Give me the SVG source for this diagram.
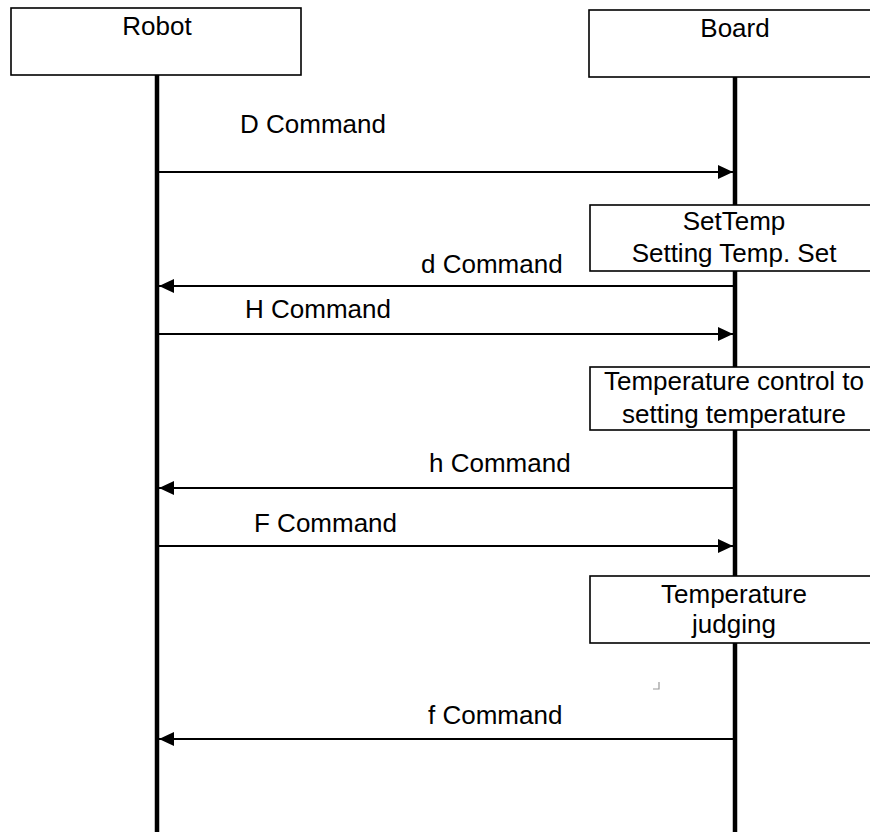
<svg xmlns="http://www.w3.org/2000/svg" width="870" height="832" viewBox="0 0 870 832">
  <defs>
    <marker id="arrowhead" markerWidth="15" markerHeight="14" refX="15" refY="7" orient="auto" markerUnits="userSpaceOnUse">
      <path d="M0,0 L15,7 L0,14 Z" fill="#000"/>
    </marker>
    <style>
      text { font-family: "Liberation Sans", Arial, Helvetica, sans-serif; font-size: 26px; fill: #000; }
      .mid { text-anchor: middle; }
      .box { fill: #fff; stroke: #000; stroke-width: 1.6; }
      .lifeline { stroke: #000; stroke-width: 4.5; }
      .msg { stroke: #000; stroke-width: 2.2; fill: none; marker-end: url(#arrowhead); }
    </style>
  </defs>

  <rect width="870" height="832" fill="#fff"/>

  <!-- lifelines -->
  <g id="lifelines">
    <line class="lifeline" x1="157" y1="75" x2="157" y2="832"/>
    <line class="lifeline" x1="735" y1="77" x2="735" y2="832"/>
  </g>

  <!-- participants -->
  <g id="robot">
    <rect class="box" x="11" y="8" width="290" height="67"/>
    <text class="mid" x="157" y="35">Robot</text>
  </g>
  <g id="board">
    <rect class="box" x="589" y="10" width="300" height="67"/>
    <text class="mid" x="735" y="37">Board</text>
  </g>

  <!-- activity boxes on the Board lifeline -->
  <g id="set-temp">
    <rect class="box" x="590" y="205" width="300" height="66"/>
    <text class="mid" x="734" y="230">SetTemp</text>
    <text class="mid" x="734" y="262">Setting Temp. Set</text>
  </g>
  <g id="temp-control">
    <rect class="box" x="590" y="367" width="300" height="63"/>
    <text class="mid" x="734" y="390">Temperature control to</text>
    <text class="mid" x="734" y="423">setting temperature</text>
  </g>
  <g id="temp-judging">
    <rect class="box" x="590" y="576" width="300" height="67"/>
    <text class="mid" x="734" y="603">Temperature</text>
    <text class="mid" x="734" y="633">judging</text>
  </g>

  <!-- messages -->
  <g id="connectors">
    <line class="msg" x1="159" y1="172" x2="733" y2="172"/>
    <line class="msg" x1="733" y1="286" x2="159" y2="286"/>
    <line class="msg" x1="159" y1="334" x2="733" y2="334"/>
    <line class="msg" x1="733" y1="488" x2="159" y2="488"/>
    <line class="msg" x1="159" y1="546" x2="733" y2="546"/>
    <line class="msg" x1="733" y1="739" x2="159" y2="739"/>
  </g>

  <g id="labels">
    <text x="240" y="133">D Command</text>
    <text x="421" y="273">d Command</text>
    <text x="245" y="318">H Command</text>
    <text x="429" y="472">h Command</text>
    <text x="254" y="532">F Command</text>
    <text x="428" y="724">f Command</text>
  </g>

  <!-- small corner tick -->
  <path d="M659,682 V689 H653" fill="none" stroke="#999" stroke-width="1.2"/>
</svg>
